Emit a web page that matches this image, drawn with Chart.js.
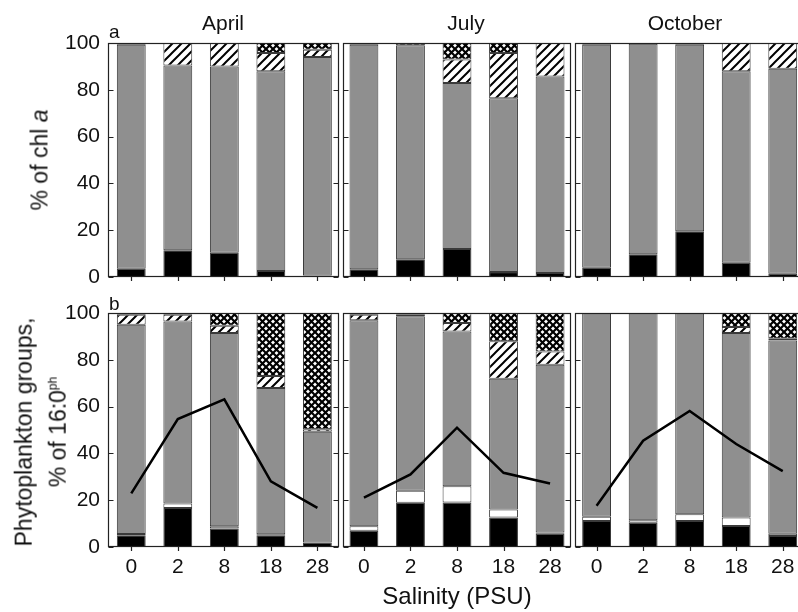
<!DOCTYPE html>
<html>
<head>
<meta charset="utf-8">
<script src="https://cdn.jsdelivr.net/npm/chart.js@4.4.1/dist/chart.umd.min.js"></script>
<style>
  html, body { margin: 0; padding: 0; background: #fff; overflow: hidden; width: 798px; height: 612px; }
  body { position: relative; font-family: 'Liberation Sans', Arial, sans-serif; color: #111; }
  .box { position: absolute; }
  .txt { position: absolute; white-space: nowrap; line-height: 1; }
  .rot { position: absolute; white-space: nowrap; text-align: center; transform: translate(-50%, -50%) rotate(-90deg); }
</style>
</head>
<body>
<div class="box" style="left:0;top:0;width:810px;height:299px"><canvas id="topChart"></canvas></div>
<div class="box" style="left:0;top:290px;width:810px;height:322px"><canvas id="botChart"></canvas></div>

<div class="txt" style="left:223px;top:12px;font-size:21px;transform:translateX(-50%)">April</div>
<div class="txt" style="left:466px;top:12px;font-size:21px;transform:translateX(-50%)">July</div>
<div class="txt" style="left:685px;top:12px;font-size:21px;transform:translateX(-50%)">October</div>
<div class="txt" style="left:109px;top:22px;font-size:19px">a</div>
<div class="txt" style="left:109px;top:294px;font-size:19px">b</div>
<div class="rot" style="left:40px;top:160px;font-size:23px;line-height:29px">% of chl <i>a</i></div>
<div class="rot" style="left:41px;top:432px;font-size:23px;line-height:29px">Phytoplankton groups,<br>% of 16:0<sup style="font-size:12px">ph</sup></div>

<script>
const salinity = ['0', '2', '8', '18', '28'];
const months = ['April', 'July', 'October'];
const yTicks = [0, 20, 40, 60, 80, 100];

// panel a: % of chl a  (April, July, October x salinity 0,2,8,18,28)
const chlBlack = [3.5, 11.4, 10.4, 2.6, 0.6,   3.3, 7.6, 12.0, 2.1, 1.7,   3.9, 9.7, 19.6, 6.1, 1.4];
const chlGray  = [95.8, 79.0, 79.6, 85.3, 93.4, 96.0, 91.4, 70.9, 74.3, 84.0, 95.4, 90.0, 79.7, 81.8, 87.6];
const chlHatch = [0, 9.6, 10.0, 7.8, 3.1,      0, 0, 10.0, 19.3, 14.3,     0, 0, 0, 12.1, 11.0];
const chlCross = [0.7, 0, 0, 4.3, 2.9,         0.7, 1.0, 7.1, 4.3, 0,      0.7, 0.3, 0.7, 0, 0];

// panel b: phytoplankton groups, % of 16:0ph
const phBlack = [5.0, 16.7, 7.9, 5.0, 1.9,     6.9, 18.9, 19.0, 12.6, 5.7,  11.1, 10.4, 11.1, 9.0, 4.7];
const phWhite = [0.6, 1.9, 1.0, 0.4, 0,        2.0, 5.1, 7.0, 3.4, 0.5,     1.8, 1.0, 2.9, 3.6, 1.0];
const phGray  = [89.4, 77.8, 82.5, 62.5, 47.4, 88.0, 74.6, 66.1, 55.9, 71.7, 87.1, 88.6, 86.0, 78.8, 82.6];
const phHatch = [4.3, 2.9, 3.2, 5.2, 1.0,      2.4, 0.7, 3.6, 16.0, 5.7,    0, 0, 0, 2.6, 0.7];
const phCross = [0.7, 0.7, 5.4, 26.9, 49.7,    0.7, 0.7, 4.3, 12.1, 16.4,   0, 0, 0, 6.0, 11.0];

// line over panel b
const lineApril   = [22.9, 54.7, 63.1, 28.1, 16.7];
const lineJuly    = [21.1, 31.0, 51.0, 31.7, 27.1];
const lineOctober = [17.6, 45.4, 58.1, 44.0, 32.4];

const labels = months.flatMap(() => salinity);
const FONT = "'Liberation Sans', Arial, sans-serif";
const GRAY = '#8f8f8f';
const EDGE = '#3a3a3a';

function makeHatch() {
  const c = document.createElement('canvas');
  c.width = 9; c.height = 9;
  const g = c.getContext('2d');
  g.fillStyle = '#fff';
  g.fillRect(0, 0, 9, 9);
  g.strokeStyle = '#000';
  g.lineWidth = 2;
  g.beginPath();
  g.moveTo(-1, 10); g.lineTo(10, -1);
  g.moveTo(-2, 2); g.lineTo(2, -2);
  g.moveTo(7, 11); g.lineTo(11, 7);
  g.stroke();
  return g.createPattern(c, 'repeat');
}

function makeCross() {
  const c = document.createElement('canvas');
  c.width = 7; c.height = 7;
  const g = c.getContext('2d');
  g.fillStyle = '#fff';
  g.fillRect(0, 0, 7, 7);
  g.strokeStyle = '#000';
  g.lineWidth = 2.2;
  g.beginPath();
  g.moveTo(-1, -1); g.lineTo(8, 8);
  g.moveTo(-1, 8); g.lineTo(8, -1);
  g.stroke();
  return g.createPattern(c, 'repeat');
}

const hatch = makeHatch();
const cross = makeCross();

// panel boxes, inward y ticks, small x ticks under the axis
const panelFrame = {
  id: 'panelFrame',
  afterDatasetsDraw(chart) {
    const { ctx, chartArea: a, scales: { x, y } } = chart;
    const n = salinity.length;
    const catW = (a.right - a.left) / labels.length;
    ctx.save();
    ctx.strokeStyle = '#222';
    ctx.lineWidth = 1.2;
    for (let p = 0; p < months.length; p++) {
      const l = Math.round(a.left + p * n * catW + (p > 0 ? 2 : 0)) + 0.5;
      const r = Math.round(a.left + (p + 1) * n * catW - (p < months.length - 1 ? 2 : 0)) - 0.5;
      ctx.strokeRect(l, a.top + 0.5, r - l, a.bottom - a.top - 1);
      ctx.beginPath();
      yTicks.forEach(v => {
        const py = Math.round(y.getPixelForValue(v)) + 0.5;
        ctx.moveTo(l, py); ctx.lineTo(l + 5, py);
        ctx.moveTo(r, py); ctx.lineTo(r - 5, py);
      });
      ctx.stroke();
    }
    ctx.beginPath();
    labels.forEach((_, i) => {
      const px = Math.round(x.getPixelForValue(i)) + 0.5;
      ctx.moveTo(px, a.bottom); ctx.lineTo(px, a.bottom + 4);
    });
    ctx.stroke();
    ctx.restore();
  }
};

function barSet(data, color) {
  return {
    type: 'bar', data, backgroundColor: color, borderColor: EDGE, borderWidth: 1,
    borderSkipped: false, barPercentage: 0.62, categoryPercentage: 1, stack: 'groups', order: 1
  };
}

function lineSet(vals, m) {
  const data = labels.map(() => null);
  vals.forEach((v, i) => { data[m * salinity.length + i] = v; });
  return {
    type: 'line', data, borderColor: '#000', borderWidth: 2.5, pointRadius: 0,
    tension: 0, fill: false, stack: 'line' + m, order: 0
  };
}

const yAxis = {
  stacked: true, min: 0, max: 100,
  ticks: { stepSize: 20, padding: 8, color: '#111', font: { family: FONT, size: 21 } },
  grid: { display: false, drawTicks: false },
  border: { display: false },
  afterFit(s) { s.width = 108; }
};

const common = {
  responsive: true,
  maintainAspectRatio: false,
  animation: false,
  plugins: { legend: { display: false }, tooltip: { enabled: false } }
};

new Chart(document.getElementById('topChart'), {
  type: 'bar',
  data: {
    labels,
    datasets: [
      barSet(chlBlack, '#000'),
      barSet(chlGray, GRAY),
      barSet(chlHatch, hatch),
      barSet(chlCross, cross)
    ]
  },
  options: {
    ...common,
    layout: { padding: { top: 43, bottom: 0, left: 0, right: 4 } },
    scales: {
      x: {
        stacked: true,
        grid: { display: false, drawTicks: false },
        border: { display: false },
        ticks: { display: false },
        afterFit(s) { s.height = 22; }
      },
      y: yAxis
    }
  },
  plugins: [panelFrame]
});

new Chart(document.getElementById('botChart'), {
  type: 'bar',
  data: {
    labels,
    datasets: [
      barSet(phBlack, '#000'),
      barSet(phWhite, '#fff'),
      barSet(phGray, GRAY),
      barSet(phHatch, hatch),
      barSet(phCross, cross),
      lineSet(lineApril, 0),
      lineSet(lineJuly, 1),
      lineSet(lineOctober, 2)
    ]
  },
  options: {
    ...common,
    layout: { padding: { top: 23, bottom: 0, left: 0, right: 4 } },
    scales: {
      x: {
        stacked: true,
        grid: { display: false, drawTicks: false },
        border: { display: false },
        ticks: { padding: 8, color: '#111', autoSkip: false, maxRotation: 0, font: { family: FONT, size: 21 } },
        title: { display: true, text: 'Salinity (PSU)', color: '#111', font: { family: FONT, size: 24 }, padding: { top: 4, bottom: 0 } },
        afterFit(s) { s.height = 65; }
      },
      y: yAxis
    }
  },
  plugins: [panelFrame]
});
</script>
</body>
</html>
